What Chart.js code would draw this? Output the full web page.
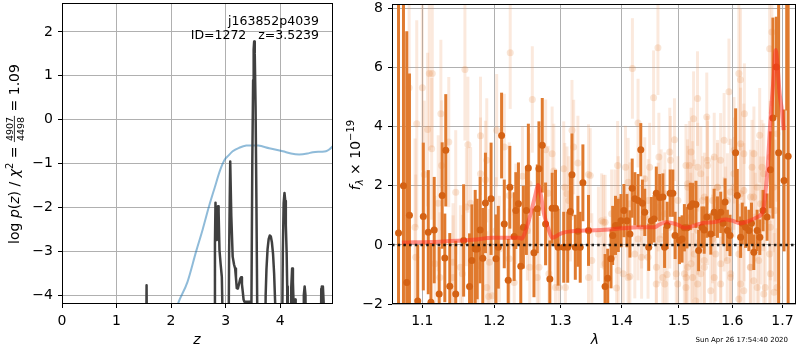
<!DOCTYPE html>
<html>
<head>
<meta charset="utf-8">
<script src="https://cdn.jsdelivr.net/npm/chart.js@4"></script>
<style>
  html, body { margin: 0; padding: 0; background: #fff; }
  #wrap { position: relative; width: 800px; height: 350px; overflow: hidden; background: #fff; }
  canvas { position: absolute; top: 0; }
  #pz { left: 0; }
  #spec { left: 340px; }
</style>
</head>
<body>
<div id="wrap">
  <canvas id="pz" width="340" height="350"></canvas>
  <canvas id="spec" width="460" height="350"></canvas>
</div>
<script>
// ---- redshift posterior (left panel) ----
const pzZ = [1.540,1.551,1.562, 2.790,2.805,2.815,2.830,2.839,2.850,2.862,2.872,2.888,2.910,2.931,2.945,2.955,
  3.050,3.065,3.085,3.105,3.130,3.155,3.175,3.190,3.205,3.225,3.245,3.270,3.285,3.300,3.315,3.330,3.345,3.430,3.440,
  3.465,3.474,3.490,3.505,3.515,3.524,3.535,3.550,3.565,3.580,3.590,
  3.720,3.735,3.750,3.770,3.790,3.810,3.830,3.850,3.870,3.890,3.910,3.920,
  4.030,4.050,4.065,4.080,4.095,4.105,4.120,4.130,4.140,
  4.190,4.205,4.220,4.235,4.250,4.265,4.275,4.285,4.295,
  4.420,4.435,4.450,4.465,4.480,
  4.740,4.755,4.765,4.775,4.785,4.800,4.810];
const pzLog = [-6,-3.77,-6, -6,-2.8,-1.89,-2.6,-2.74,-2.2,-1.97,-2.1,-2.97,-3.3,-3.58,-4.5,-6,
  -6,-3.0,-0.95,-2.2,-3.12,-3.3,-3.39,-3.6,-3.84,-3.85,-3.75,-3.62,-3.59,-3.75,-3.92,-4.1,-4.15,-4.15,-6,
  -6,-4.2,-1.0,0.9,1.6,1.78,1.5,0.3,-1.8,-4.2,-6,
  -6,-4.0,-3.4,-2.95,-2.72,-2.64,-2.66,-2.8,-3.05,-3.5,-4.2,-6,
  -6,-3.0,-1.9,-1.67,-1.85,-2.4,-3.04,-3.8,-6,
  -6,-3.8,-3.39,-3.7,-4.3,-4.25,-4.1,-4.3,-6,
  -6,-4.0,-3.8,-4.0,-6,
  -6,-3.85,-3.8,-3.82,-3.8,-4.2,-6];

const priorZ = [2.08,2.125,2.3,2.46,2.58,2.69,2.8,2.9,2.98,3.05,3.13,3.25,3.38,3.5,3.6,3.8,4.05,4.2,4.35,4.5,4.6,4.75,4.84,4.9,4.97];
const priorLog = [-4.4,-4.2,-3.7,-3.0,-2.5,-2.0,-1.55,-1.15,-0.92,-0.82,-0.72,-0.64,-0.59,-0.585,-0.59,-0.65,-0.72,-0.77,-0.79,-0.77,-0.74,-0.73,-0.72,-0.68,-0.6];

const zTicks = [0, 1, 2, 3, 4];
const logpTicks = [-4, -3, -2, -1, 0, 1, 2];

// ---- spectrum (right panel) ----
const binLam = [1.0688,1.0752,1.0795,1.0830,1.0939,1.1013,1.1079,1.1115,1.1159,1.1226,
  1.1267,1.1303,1.1316,1.1371,1.1453,1.1563,1.1646,1.1679,1.1726,1.1754,
  1.1796,1.1834,1.1872,1.1953,1.2024,1.2058,1.2106,1.2145,1.2203,1.2227,
  1.2291,1.2316,1.2355,1.2390,1.2429,1.2474,1.2504,1.2589,1.2640,1.2665,
  1.2716,1.2767,1.2833,1.2869,1.2921,1.2962,1.3050,1.3113,1.3155,1.3181,
  1.3234,1.3276,1.3313,1.3356,1.3447,1.3719,1.3763,1.3818,1.3846,1.3893,
  1.3940,1.3985,1.4035,1.4086,1.4137,1.4176,1.4222,1.4278,1.4324,1.4352,
  1.4393,1.4462,1.4508,1.4555,1.4595,1.4654,1.4712,1.4742,1.4789,1.4842,
  1.4890,1.4931,1.5009,1.5057,1.5099,1.5147,1.5208,1.5251,1.5312,1.5361,
  1.5422,1.5465,1.5515,1.5589,1.5652,1.5715,1.5777,1.5822,1.5860,1.5904,
  1.5955,1.6064,1.6096,1.6161,1.6193,1.6258,1.6323,1.6375,1.6421,1.6487,
  1.6540,1.6606,1.6686,1.6753,1.6804,1.6874,1.6921,1.7032,1.7087,1.7117];
const binFlux = [0.40,2.00,-1.27,1.00,-1.90,0.96,0.43,-1.94,0.50,-1.66,
  1.67,-0.44,3.20,-1.40,-1.66,0.15,-1.41,-0.53,-0.14,-0.14,
  0.50,-0.45,1.42,1.56,-0.47,-0.08,3.70,0.71,-1.20,1.95,
  0.28,1.16,1.39,-0.72,0.60,1.16,2.60,-0.27,1.22,2.58,
  3.37,0.71,-1.15,1.24,1.24,-0.08,-0.08,-0.08,1.13,2.37,
  -0.08,0.46,-0.08,2.10,0.49,-1.41,-1.13,-0.47,0.32,0.66,
  0.66,0.82,1.16,0.82,0.37,1.92,1.56,1.50,3.22,1.41,
  1.10,-0.08,0.82,0.88,1.75,1.60,1.62,-0.08,0.66,1.75,
  1.75,0.32,0.15,0.20,0.58,0.58,1.30,1.39,1.37,-0.19,
  0.60,0.50,0.94,0.37,1.10,0.94,1.10,0.73,1.45,0.49,
  0.32,3.12,1.67,0.26,0.73,0.60,0.49,0.73,-0.25,0.49,
  0.26,1.16,0.94,2.54,4.29,6.02,3.12,2.18,10.0,3.0];
const binErr = [8,8,8.5,4.8,1.9,2.5,2.1,2.0,1.8,1.6,
  1.8,1.5,1.9,1.8,1.8,1.9,1.8,1.9,2.0,1.7,
  1.8,1.7,1.7,1.9,1.5,1.4,1.45,1.5,1.4,1.4,
  1.5,1.3,1.4,1.3,1.4,1.5,1.5,1.5,1.5,1.6,
  1.6,1.4,1.3,1.2,1.3,1.3,1.2,1.2,1.2,1.4,
  1.1,1.2,1.2,1.3,1.2,1.1,1.0,1.0,1.0,1.0,
  0.9,0.9,0.9,0.9,0.8,1.0,0.9,0.9,0.9,0.8,
  0.8,0.8,0.8,0.8,0.9,0.8,0.8,0.7,0.8,0.8,
  0.8,0.8,0.8,0.8,0.8,0.7,0.8,0.7,0.8,0.7,
  0.7,0.8,0.7,0.7,0.8,0.7,0.7,0.7,0.8,0.7,
  0.7,1.5,0.9,0.7,0.7,0.7,0.7,0.7,0.6,0.7,
  0.6,0.7,0.8,1.3,3.4,1.7,5.5,2.4,5.45,11];

const rawLam = [1.0826,1.1000,1.1093,1.1133,1.1581,1.1249,1.0926,1.1071,1.1125,1.1357,1.1623,1.1801,1.1891,1.1259,1.1026,1.1801,1.1872,1.1453,1.1213,1.1601,1.1661,1.0904,1.0913,1.1416,1.1518,1.1763,1.1236,1.1929,1.1891,1.1919,1.1546,1.1416,1.1169,
  1.2233,1.2564,1.2034,1.2146,1.2415,1.2895,1.3181,1.3276,1.3447,1.3208,1.2768,1.2869,1.3050,1.2218,1.2515,1.2807,1.3066,1.3102,1.3129,1.2317,1.2025,1.2489,1.2073,1.2525,1.2666,1.2818,1.2292,1.2640,1.2921,1.2973,1.3077,1.3447,1.1968,1.2218,1.3156,
  1.4624,1.4180,1.4548,1.4277,1.3928,1.4062,1.4479,1.4641,1.4919,1.4848,1.3475,1.4107,1.4393,1.5128,1.5158,1.4681,1.3691,1.3884,1.4393,1.4741,1.3501,1.4023,1.4136,1.3911,1.4711,1.4787,1.4978,1.5099,1.5158,1.4594,1.5128,1.4221,1.4450,1.3609,1.4919,1.4277,
  1.5341,1.5513,1.5268,1.5935,1.6127,1.6158,1.6235,1.6738,1.6784,1.6538,1.5190,1.5402,1.5526,1.5775,1.6031,1.6224,1.6386,1.6583,1.6750,1.5250,1.5433,1.5713,1.5965,1.6224,1.6419,1.6617,1.6816,1.6848,1.5218,1.5526,1.5870,1.6451,1.5281,1.5465,1.5681,1.5902,1.6127,1.6352,1.6518,1.6738,1.5250,1.5402,1.5588,1.5775,1.5965,1.6224,1.6419,1.6649,1.6829,1.5310,1.6127,
  1.3719,1.3828,1.4835,1.5222,1.5344,1.5529,1.5654,1.5842,1.6033,1.6161,1.6423,1.6620,1.6888,
  1.3663,1.3939,1.4136,1.4454,1.4628,1.4746,1.4982,1.5162,1.5284,1.5468,1.5622,1.5716,1.5905,1.6033,1.6161,1.6356,1.6488,1.6553,
  1.3719,1.3939,1.4107,1.4338,1.4598,1.4746,1.4952,1.5131,1.5222,1.5344,1.5468,1.5654,1.5778,1.5968,1.6161,1.6356,1.6488,1.6620,1.6753,1.6888,
  1.4095,1.4338,1.4658,1.4835,1.5344,1.5622,1.5842,1.6227,1.6553,1.6753];
const rawFlux = [5.32,5.32,5.80,5.80,5.93,4.44,4.10,3.90,3.25,3.48,3.39,3.69,2.86,2.69,2.38,2.41,2.20,1.78,1.41,1.28,1.41,0.60,-0.42,-0.59,-0.76,-0.70,-1.10,-0.59,-1.44,-1.75,-0.98,-1.10,-0.64,
  6.50,4.92,3.88,3.31,2.32,2.50,3.88,2.77,2.38,3.31,3.22,3.08,2.58,1.67,2.07,1.75,1.95,1.73,1.50,1.05,0.49,0.49,-0.14,-0.76,-0.76,-0.98,-1.27,-1.10,-1.44,-1.44,-1.44,-1.10,-1.72,-0.47,0.94,
  6.67,5.97,4.98,4.12,2.69,2.63,2.63,2.97,3.56,2.86,2.35,2.12,2.24,2.69,2.07,1.73,0.77,1.05,0.94,1.05,-0.53,-0.98,-1.07,-1.46,-1.10,-1.00,-1.32,-0.98,-0.76,-1.32,-1.44,-0.31,-0.42,0.37,0.32,0.20,
  4.95,4.33,4.27,5.18,5.80,5.59,4.44,6.64,7.20,3.71,2.69,2.41,2.86,2.86,2.41,3.08,2.63,2.63,2.97,2.01,1.50,1.95,1.79,1.84,1.62,1.39,1.95,1.16,0.94,0.82,1.05,0.94,-0.31,-0.53,-0.31,-0.53,-0.31,-0.76,-0.53,-0.31,-1.10,-0.98,-1.55,-1.32,-1.10,-1.55,-1.21,-1.44,-1.60,-1.90,-1.83,
  0.77,1.05,3.14,3.14,2.63,2.69,2.97,3.54,3.20,3.42,3.08,2.41,3.76,
  0.82,1.50,1.39,1.50,1.28,1.73,1.50,1.95,1.39,1.62,1.50,1.95,1.50,1.95,1.73,1.62,1.95,1.39,
  -0.64,-0.87,-1.10,-0.42,-0.76,-1.32,-0.98,-1.10,-0.64,-1.32,-0.76,-1.10,-0.64,-0.98,-1.32,-0.76,-1.44,-1.66,-0.98,-1.44,
  0.37,0.60,0.20,0.60,0.49,0.20,0.70,0.37,0.26,0.60];
const rawErr = [3.0,2.8,2.6,2.5,2.4,2.5,3.5,2.6,2.4,2.2,2.3,2.0,2.1,2.2,2.5,1.9,2.0,2.1,2.3,2.0,1.9,3.0,2.8,2.0,2.1,1.9,2.2,1.8,1.9,1.8,2.0,2.1,2.3,
  1.9,1.8,1.9,1.8,1.7,1.6,1.7,1.6,1.7,1.6,1.7,1.6,1.6,1.8,1.7,1.6,1.5,1.6,1.5,1.7,1.8,1.7,1.8,1.6,1.7,1.6,1.7,1.6,1.6,1.5,1.6,1.5,1.8,1.7,1.5,
  1.6,1.7,1.6,1.5,1.5,1.4,1.5,1.5,1.4,1.5,1.6,1.5,1.4,1.4,1.5,1.5,1.6,1.5,1.4,1.5,1.6,1.4,1.5,1.4,1.5,1.4,1.5,1.4,1.5,1.4,1.5,1.5,1.4,1.6,1.5,1.4,
  1.6,1.5,1.6,1.8,2.6,2.4,1.7,2.2,2.5,1.6,1.5,1.6,1.5,1.6,1.9,1.7,1.6,1.6,1.9,1.5,1.5,1.5,1.8,1.6,1.6,1.6,2.2,2.4,1.5,1.5,1.6,1.5,1.5,1.5,1.6,1.6,1.7,1.6,1.6,1.8,1.5,1.5,1.5,1.6,1.7,1.6,1.6,1.6,2.0,1.5,1.8,
  1.6,1.5,1.5,1.5,1.5,1.5,1.5,1.6,1.8,1.9,1.6,1.7,2.3,
  1.6,1.5,1.4,1.4,1.5,1.4,1.5,1.4,1.5,1.5,1.5,1.6,1.6,1.7,1.7,1.6,1.6,1.6,
  1.6,1.5,1.5,1.4,1.5,1.4,1.5,1.4,1.5,1.5,1.5,1.5,1.6,1.6,1.6,1.6,1.6,1.7,1.8,2.0,
  1.4,1.4,1.5,1.4,1.5,1.5,1.6,1.6,1.6,1.8];

const modelLam = [1.0731,1.1235,1.1693,1.1976,1.2365,1.2405,1.2464,1.2539,1.2615,1.2650,1.2691,1.2742,1.2819,1.2869,1.2921,1.2973,1.3076,1.3181,1.3447,1.3719,1.3996,1.4278,1.4567,1.4654,1.4772,1.4890,1.4980,1.5099,1.5190,1.5343,1.5465,1.5652,1.5872,1.5999,1.6161,1.6291,1.6487,1.6606,1.6652,1.6699,1.6753,1.6820,1.6860,1.6901,1.6941,1.6989,1.7023];
const modelFlux = [0.08,0.11,0.17,0.24,0.24,0.21,0.49,1.05,1.73,2.03,1.73,1.05,0.49,0.24,0.28,0.35,0.43,0.46,0.49,0.51,0.56,0.60,0.60,0.69,0.77,0.73,0.68,0.58,0.60,0.69,0.75,0.77,0.86,0.82,0.73,0.79,0.94,1.16,1.73,2.63,4.21,5.68,6.59,6.02,5.12,4.55,3.88];

const lamTicks = [1.1, 1.2, 1.3, 1.4, 1.5, 1.6, 1.7];
const fluxTicks = [-2, 0, 2, 4, 6, 8];

// ---- helpers ----
const FAMILY = '"DejaVu Sans", sans-serif';
const tickFont = { family: FAMILY, size: 14 };
const pairs = (xs, ys) => xs.map((x, i) => ({ x, y: ys[i] }));
// each error bar is a (low, high) pair; only the segment inside a pair is stroked
function errPairs(xs, ys, es) {
  const pts = [];
  xs.forEach((x, i) => { pts.push({ x, y: ys[i] - es[i] }, { x, y: ys[i] + es[i] }); });
  return pts;
}
const barSegments = color => ({ borderColor: c => (c.p0DataIndex % 2 === 0 ? color : 'rgba(0,0,0,0)') });
const fixTicks = values => scale => { scale.ticks = values.map(v => ({ value: v })); };
const minusFmt = v => (v < 0 ? '\u2212' + Math.abs(v) : String(v));
function xFit(h) { return s => { s.height = h; s.paddingLeft = s.paddingRight = s.paddingTop = s.paddingBottom = 0; }; }
function yFit(w) { return s => { s.width = w; s.paddingLeft = s.paddingRight = s.paddingTop = s.paddingBottom = 0; }; }

function axisStyle(extra) {
  return Object.assign({
    grid: { color: '#b0b0b0', lineWidth: 1, tickColor: '#000', tickLength: 4, tickWidth: 1 },
    border: { display: false },
    ticks: { font: tickFont, color: '#000', padding: 5, autoSkip: false, maxRotation: 0, callback: minusFmt }
  }, extra);
}

// text made of runs with different fonts / offsets, centred on (cx, cy)
function drawRuns(ctx, runs, cx, cy, angle) {
  ctx.save();
  ctx.translate(cx, cy);
  ctx.rotate(angle);
  ctx.fillStyle = '#000';
  ctx.strokeStyle = '#000';
  ctx.textBaseline = 'alphabetic';
  ctx.textAlign = 'left';
  let total = 0;
  runs.forEach(r => {
    if (r.measure) r.w = r.measure(ctx);
    else { ctx.font = r.font; r.w = ctx.measureText(r.t).width; }
    total += r.w;
  });
  let x = -total / 2;
  runs.forEach(r => {
    if (r.draw) r.draw(ctx, x);
    else { ctx.font = r.font; ctx.fillText(r.t, x, r.dy || 0); }
    x += r.w;
  });
  ctx.restore();
}

const N = '14px ' + FAMILY;
const I = 'italic 14px ' + FAMILY;
const S = '10px ' + FAMILY;
const SI = 'italic 10px ' + FAMILY;
const FR = '9.5px ' + FAMILY;

const chiFraction = {
  num: '4907', den: '4498',
  measure(ctx) { ctx.font = FR; return Math.max(ctx.measureText(this.num).width, ctx.measureText(this.den).width) + 2; },
  draw(ctx, x) {
    ctx.font = FR;
    const wn = ctx.measureText(this.num).width, wd = ctx.measureText(this.den).width;
    ctx.fillText(this.num, x + (this.w - wn) / 2, -6.5);
    ctx.fillText(this.den, x + (this.w - wd) / 2, 4.5);
    ctx.lineWidth = 0.8;
    ctx.beginPath(); ctx.moveTo(x, -4.6); ctx.lineTo(x + this.w, -4.6); ctx.stroke();
  }
};

const frame = {
  id: 'frame',
  afterDatasetsDraw(chart) {
    const { ctx, chartArea: a } = chart;
    ctx.save();
    ctx.strokeStyle = '#000';
    ctx.lineWidth = 1;
    ctx.strokeRect(Math.round(a.left) + 0.5, Math.round(a.top) + 0.5, Math.round(a.right - a.left) - 1, Math.round(a.bottom - a.top) - 1);
    ctx.restore();
  }
};

const pzLabels = {
  id: 'pzLabels',
  afterDraw(chart) {
    const ctx = chart.ctx;
    ctx.save();
    ctx.fillStyle = '#000';
    ctx.font = '12.5px ' + FAMILY;
    ctx.textAlign = 'right';
    ctx.textBaseline = 'alphabetic';
    ctx.fillText('j163852p4039', 319, 25);
    ctx.fillText('ID=1272   z=3.5239', 319, 39);
    ctx.font = I;
    ctx.textAlign = 'center';
    ctx.fillText('z', 197, 344);
    ctx.restore();
    drawRuns(ctx, [
      { t: 'log ', font: N }, { t: 'p', font: I }, { t: '(', font: N }, { t: 'z', font: I }, { t: ')', font: N },
      { t: ' / ', font: N }, { t: 'χ', font: I }, { t: '2', font: S, dy: -6 }, { t: ' = ', font: N },
      chiFraction, { t: ' = 1.09', font: N }
    ], 19, 154, -Math.PI / 2);
  }
};

const specLabels = {
  id: 'specLabels',
  afterDraw(chart) {
    const ctx = chart.ctx;
    ctx.save();
    ctx.fillStyle = '#000';
    ctx.font = I;
    ctx.textAlign = 'center';
    ctx.textBaseline = 'alphabetic';
    ctx.fillText('λ', 255, 344);
    ctx.font = '7px ' + FAMILY;
    ctx.textAlign = 'right';
    ctx.fillText('Sun Apr 26 17:54:40 2020', 448, 342);
    ctx.restore();
    drawRuns(ctx, [
      { t: 'f', font: I }, { t: 'λ', font: SI, dy: 3 }, { t: ' × 10', font: N }, { t: '−19', font: S, dy: -6 }
    ], 20, 155, -Math.PI / 2);
  }
};

// ---- left chart: log p(z) ----
new Chart(document.getElementById('pz'), {
  type: 'scatter',
  data: {
    datasets: [
      { data: pairs(pzZ, pzLog), showLine: true, borderColor: '#404040', borderWidth: 2.5,
        pointRadius: 0, borderJoinStyle: 'round', clip: 0, order: 0 },
      { data: pairs(priorZ, priorLog), showLine: true, borderColor: 'rgba(31,119,180,0.5)', borderWidth: 2,
        pointRadius: 0, cubicInterpolationMode: 'monotone', clip: 0, order: 1 }
    ]
  },
  options: {
    responsive: false, animation: false, devicePixelRatio: 1,
    layout: { padding: { left: 0, top: 3, right: 7, bottom: 0 } },
    plugins: { legend: { display: false }, tooltip: { enabled: false } },
    scales: {
      x: axisStyle({ type: 'linear', min: 0, max: 4.97, afterBuildTicks: fixTicks(zTicks), afterFit: xFit(46) }),
      y: axisStyle({ type: 'linear', min: -4.2, max: 2.66, afterBuildTicks: fixTicks(logpTicks), afterFit: yFit(62) })
    }
  },
  plugins: [frame, pzLabels]
});

// ---- right chart: spectrum ----
const binBar = 'rgb(224,122,46)';
const rawBar = 'rgba(238,155,100,0.22)';
new Chart(document.getElementById('spec'), {
  type: 'scatter',
  data: {
    datasets: [
      { data: [{ x: 1.0604, y: 0 }, { x: 1.728, y: 0 }], showLine: true, borderColor: 'rgba(0,0,0,0.85)',
        borderWidth: 2.5, borderDash: [2.5, 3.2], pointRadius: 0, clip: 0, order: 0 },
      { data: pairs(modelLam, modelFlux), showLine: true, borderColor: 'rgba(255,40,30,0.5)', borderWidth: 4,
        pointRadius: 0, cubicInterpolationMode: 'monotone', borderJoinStyle: 'round', clip: 0, order: 1 },
      { data: pairs(binLam, binFlux), pointRadius: 3.5, pointBorderWidth: 0,
        pointBackgroundColor: 'rgb(212,98,20)', clip: 0, order: 2 },
      { data: errPairs(binLam, binFlux, binErr), showLine: true, borderColor: binBar,
        segment: barSegments(binBar), borderWidth: 3, pointRadius: 0, clip: 0, order: 3 },
      { data: pairs(rawLam, rawFlux), pointRadius: 3.5, pointBorderWidth: 0,
        pointBackgroundColor: 'rgba(226,135,70,0.22)', clip: 0, order: 4 },
      { data: errPairs(rawLam, rawFlux, rawErr), showLine: true, borderColor: rawBar,
        segment: barSegments(rawBar), borderWidth: 3, pointRadius: 0, clip: 0, order: 5 }
    ]
  },
  options: {
    responsive: false, animation: false, devicePixelRatio: 1,
    layout: { padding: { left: 0, top: 3, right: 1, bottom: 0 } },
    plugins: { legend: { display: false }, tooltip: { enabled: false } },
    scales: {
      x: axisStyle({ type: 'logarithmic', min: 1.0604, max: 1.728, afterBuildTicks: fixTicks(lamTicks),
        afterFit: xFit(46),
        ticks: { font: tickFont, color: '#000', padding: 5, autoSkip: false, maxRotation: 0, callback: v => Number(v).toFixed(1) } }),
      y: axisStyle({ type: 'linear', min: -2, max: 8.15, afterBuildTicks: fixTicks(fluxTicks), afterFit: yFit(52) })
    }
  },
  plugins: [frame, specLabels]
});
</script>
</body>
</html>
